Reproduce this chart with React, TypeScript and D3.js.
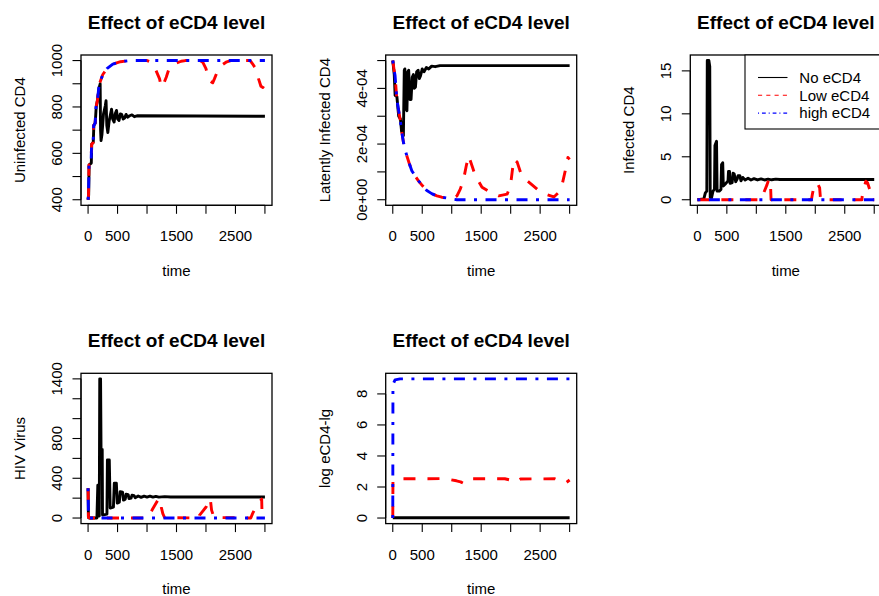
import React, { useEffect } from "react";
import * as d3 from "d3";

// ---- axis ticks -------------------------------------------------------
const timeTicks = [0, 500, 1000, 1500, 2000, 2500, 3000];
const timeTickLabels = [0, 500, 1500, 2500];

const uninfTicks = [400, 500, 600, 700, 800, 900, 1000];
const uninfTickLabels = ["400", "600", "800", "1000"];
const latentTicks = [0, 1e-4, 2e-4, 3e-4, 4e-4, 5e-4];
const latentTickLabels = ["0e+00", "2e-04", "4e-04"];
const infTicks = [0, 5, 10, 15];
const infTickLabels = ["0", "5", "10", "15"];
const virusTicks = [0, 200, 400, 600, 800, 1000, 1200, 1400];
const virusTickLabels = ["0", "400", "800", "1400"];
const logTicks = [0, 2, 4, 6, 8];
const logTickLabels = ["0", "2", "4", "6", "8"];

const legendLabels = ["No eCD4", "Low eCD4", "high eCD4"];

// ---- series: [time, value] ---------------------------------------------
const uninfNo: [number, number][] = [
  [0, 400], [10, 420], [18, 550], [55, 558], [62, 640], [88, 648], [98, 720], [122, 732],
  [138, 800], [160, 830], [185, 880], [205, 900], [212, 700], [220, 655], [235, 680],
  [262, 770], [292, 805], [305, 827], [318, 720], [335, 690], [358, 740], [378, 765],
  [398, 790], [418, 748], [442, 735], [462, 772], [482, 785], [502, 748], [525, 742],
  [548, 770], [572, 767], [595, 748], [620, 752], [645, 768], [672, 756], [705, 762],
  [745, 766], [785, 758], [830, 762], [3000, 760],
];
const uninfLow: [number, number][] = [
  [0, 400], [8, 420], [15, 550], [50, 555], [60, 640], [85, 645], [95, 720], [120, 730],
  [135, 800], [160, 830], [180, 880], [200, 905], [250, 940], [320, 965], [420, 985],
  [550, 995], [700, 1000], [1000, 1000], [1072, 993], [1128, 972], [1213, 921],
  [1241, 885], [1270, 892], [1326, 928], [1382, 972], [1466, 986], [1579, 997],
  [1650, 1000], [1900, 1000], [1945, 993], [2000, 965], [2030, 935], [2058, 914],
  [2114, 904], [2143, 921], [2199, 957], [2256, 978], [2340, 993], [2420, 1000],
  [2750, 1000], [2790, 986], [2848, 964], [2892, 921], [2932, 889], [2965, 884],
  [3000, 897],
];
const uninfHigh: [number, number][] = [
  [0, 400], [8, 420], [15, 550], [50, 555], [60, 640], [85, 645], [95, 720], [120, 730],
  [135, 800], [160, 830], [180, 880], [200, 905], [250, 940], [320, 965], [420, 985],
  [550, 995], [700, 1000], [3000, 1000],
];

const latentNo: [number, number][] = [
  [0, 5.0e-4], [25, 4.5e-4], [40, 3.75e-4], [70, 3.7e-4], [100, 3.0e-4], [130, 2.9e-4],
  [150, 2.45e-4], [180, 2.3e-4], [195, 4.65e-4], [205, 4.7e-4], [220, 3.3e-4],
  [240, 3.2e-4], [255, 4.6e-4], [270, 4.65e-4], [290, 3.6e-4], [310, 3.6e-4],
  [330, 4.4e-4], [350, 4.5e-4], [365, 4.0e-4], [385, 4.05e-4], [405, 4.6e-4],
  [430, 4.65e-4], [450, 4.35e-4], [470, 4.45e-4], [500, 4.7e-4], [530, 4.6e-4],
  [570, 4.75e-4], [610, 4.7e-4], [660, 4.8e-4], [720, 4.78e-4], [800, 4.82e-4],
  [3000, 4.82e-4],
];
const latentLow: [number, number][] = [
  [0, 5.0e-4], [20, 4.7e-4], [39, 4.46e-4], [68, 3.62e-4], [96, 3.25e-4], [124, 2.9e-4],
  [152, 2.45e-4], [181, 2.06e-4], [210, 1.8e-4], [238, 1.58e-4], [280, 1.3e-4],
  [323, 1.04e-4], [380, 0.85e-4], [436, 0.68e-4], [505, 0.5e-4], [578, 0.33e-4],
  [660, 0.22e-4], [749, 0.14e-4], [830, 0.09e-4], [919, 0.06e-4], [1000, 0.05e-4],
  [1089, 0.14e-4], [1145, 0.38e-4], [1202, 0.74e-4], [1247, 1.22e-4], [1287, 1.58e-4],
  [1344, 1.22e-4], [1400, 0.86e-4], [1514, 0.45e-4], [1656, 0.27e-4], [1797, 0.14e-4],
  [1940, 0.2e-4], [1996, 0.5e-4], [2025, 0.99e-4], [2053, 1.46e-4], [2110, 1.35e-4],
  [2166, 0.99e-4], [2280, 0.68e-4], [2450, 0.38e-4], [2591, 0.2e-4], [2733, 0.1e-4],
  [2818, 0.27e-4], [2875, 0.56e-4], [2932, 1.1e-4], [2971, 1.52e-4], [3000, 1.45e-4],
];
const latentHigh: [number, number][] = [
  [0, 5.0e-4], [20, 4.7e-4], [39, 4.46e-4], [68, 3.62e-4], [96, 3.25e-4], [124, 2.9e-4],
  [152, 2.45e-4], [181, 2.06e-4], [210, 1.8e-4], [238, 1.58e-4], [280, 1.3e-4],
  [323, 1.04e-4], [380, 0.85e-4], [436, 0.68e-4], [505, 0.5e-4], [578, 0.33e-4],
  [660, 0.22e-4], [749, 0.14e-4], [830, 0.09e-4], [919, 0.06e-4], [1000, 0.03e-4],
  [1089, 0], [3000, 0],
];

const infNo: [number, number][] = [
  [0, 0], [110, 0.1], [135, 0.8], [160, 1.0], [168, 16.2], [195, 16.2], [210, 15.5],
  [218, 0.3], [240, 0.2], [265, 1.0], [290, 1.2], [298, 6.3], [325, 6.8], [335, 1.0],
  [370, 1.0], [400, 1.2], [410, 4.1], [430, 4.3], [440, 1.6], [470, 1.8], [520, 2.2],
  [528, 3.3], [545, 3.3], [555, 1.9], [590, 2.0], [605, 3.1], [625, 3.0], [650, 2.1],
  [675, 2.4], [690, 2.8], [720, 2.8], [740, 2.2], [770, 2.6], [810, 2.3], [860, 2.5],
  [910, 2.3], [960, 2.45], [1020, 2.3], [1080, 2.42], [1140, 2.3], [1200, 2.4],
  [1260, 2.32], [1330, 2.4], [1400, 2.35], [3000, 2.35],
];
const infLow: [number, number][] = [
  [0, 0], [1080, 0], [1125, 0.8], [1182, 1.76], [1210, 2.35], [1238, 2.3], [1250, 0],
  [1935, 0], [1950, 0.6], [1977, 1.56], [2035, 1.96], [2074, 1.37], [2090, 0],
  [2790, 0], [2802, 0.78], [2858, 2.15], [2885, 2.0], [2943, 0.78], [2960, 0],
  [3000, 0],
];
const infHigh: [number, number][] = [
  [0, 0], [3000, 0],
];

const virusNo: [number, number][] = [
  [0, 300], [6, 5], [20, 0], [150, 0], [165, 330], [180, 330], [190, 20], [198, 1400],
  [212, 1400], [220, 690], [240, 690], [245, 30], [320, 40], [328, 584], [360, 584],
  [375, 100], [430, 110], [445, 350], [480, 350], [495, 150], [530, 160], [545, 265],
  [585, 260], [600, 180], [630, 190], [645, 240], [680, 235], [695, 195], [730, 200],
  [745, 230], [780, 225], [800, 205], [850, 222], [900, 208], [950, 220], [1000, 210],
  [1050, 220], [1100, 210], [1150, 218], [1200, 210], [1300, 215], [1400, 212],
  [3000, 212],
];
const virusLow: [number, number][] = [
  [0, 300], [6, 5], [25, 0], [985, 0], [1015, 10], [1100, 95], [1184, 180], [1213, 198],
  [1241, 111], [1268, 44], [1297, 5], [1880, 0], [1889, 27], [2002, 111], [2058, 196],
  [2075, 185], [2095, 80], [2124, 27], [2150, 5], [2760, 0], [2790, 44], [2875, 146],
  [2932, 179], [2945, 190], [2952, 15], [3000, 10],
];
const virusHigh: [number, number][] = [
  [0, 300], [6, 5], [25, 0], [3000, 0],
];

const logNo: [number, number][] = [
  [0, 0.02], [3000, 0.02],
];
const logLow: [number, number][] = [
  [0, 0], [3, 2.4], [68, 2.47], [150, 2.53], [900, 2.54], [970, 2.48], [1080, 2.4],
  [1150, 2.33], [1202, 2.23], [1259, 2.45], [1330, 2.53], [1900, 2.53], [1990, 2.45],
  [2053, 2.3], [2110, 2.4], [2166, 2.52], [2750, 2.53], [2820, 2.42], [2903, 2.3],
  [2940, 2.28], [3000, 2.45],
];
const logHigh: [number, number][] = [
  [0, 0], [3, 8.6], [39, 8.9], [124, 8.97], [3000, 8.97],
];

// ---- styling -----------------------------------------------------------
const FONT = "'Liberation Sans', Arial, Helvetica, sans-serif";
const LWD = 2.9;
type Style = { color: string; dash: string | null };
const styleNo: Style = { color: "#000000", dash: null };
const styleLow: Style = { color: "#FF0000", dash: "12,12" };
const styleHigh: Style = { color: "#0000FF", dash: "3,8.5,11,8.5" };

type Series = { data: [number, number][]; style: Style };

type PanelProps = {
  left: number;
  top: number;
  width: number;
  height: number;
  ylabel: string;
  yTicks: number[];
  yTickLabels: string[];
  series: Series[];
  legend?: boolean;
};

// R-style 4% padding on both ends of the data range
function padded(ext: [number, number]): [number, number] {
  const r = ext[1] - ext[0];
  return [ext[0] - 0.04 * r, ext[1] + 0.04 * r];
}

function Panel({ left, top, width, height, ylabel, yTicks, yTickLabels, series, legend }: PanelProps) {
  const right = left + width;
  const bottom = top + height;
  const allT = series.flatMap((s) => s.data.map((d) => d[0]));
  const allV = series.flatMap((s) => s.data.map((d) => d[1]));
  const x = d3.scaleLinear().domain(padded(d3.extent(allT) as [number, number])).range([left, right]);
  const y = d3.scaleLinear().domain(padded(d3.extent(allV) as [number, number])).range([bottom, top]);
  const line = d3
    .line<[number, number]>()
    .x((d) => x(d[0]))
    .y((d) => y(d[1]));

  const cx = (left + right) / 2;
  const cy = (top + bottom) / 2;
  const tick = 8.5;

  const clipId = `clip-${Math.round(left)}-${Math.round(top)}`;

  return (
    <g>
      <defs>
        <clipPath id={clipId}>
          <rect x={left} y={top} width={width} height={height} />
        </clipPath>
      </defs>
      <g clipPath={`url(#${clipId})`}>
        {series.map((s, i) => (
          <path
            key={i}
            d={line(s.data) || ""}
            fill="none"
            stroke={s.style.color}
            strokeWidth={LWD}
            strokeDasharray={s.style.dash || undefined}
            strokeLinejoin="round"
            strokeLinecap="butt"
          />
        ))}
      </g>
      <rect x={left} y={top} width={width} height={height} fill="none" stroke="#000" strokeWidth={1.3} />

      {/* x axis */}
      <line x1={x(timeTicks[0])} x2={x(timeTicks[timeTicks.length - 1])} y1={bottom} y2={bottom} stroke="#000" strokeWidth={1.1} />
      {timeTicks.map((t) => (
        <line key={t} x1={x(t)} x2={x(t)} y1={bottom} y2={bottom + tick} stroke="#000" strokeWidth={1.1} />
      ))}
      {timeTickLabels.map((t) => (
        <text key={t} x={x(t)} y={bottom + 36} textAnchor="middle" fontFamily={FONT} fontSize={15} fill="#000">
          {t}
        </text>
      ))}
      <text x={cx} y={bottom + 70.5} textAnchor="middle" fontFamily={FONT} fontSize={15} fill="#000">
        time
      </text>

      {/* y axis */}
      <line x1={left} x2={left} y1={y(yTicks[0])} y2={y(yTicks[yTicks.length - 1])} stroke="#000" strokeWidth={1.1} />
      {yTicks.map((v) => (
        <line key={v} x1={left - tick} x2={left} y1={y(v)} y2={y(v)} stroke="#000" strokeWidth={1.1} />
      ))}
      {yTickLabels.map((lab) => {
        const v = Number(lab);
        return (
          <text
            key={lab}
            transform={`translate(${left - 19},${y(v)}) rotate(-90)`}
            textAnchor="middle"
            fontFamily={FONT}
            fontSize={15}
            fill="#000"
          >
            {lab}
          </text>
        );
      })}
      <text
        transform={`translate(${left - 56},${cy}) rotate(-90)`}
        textAnchor="middle"
        fontFamily={FONT}
        fontSize={15}
        fill="#000"
      >
        {ylabel}
      </text>

      {/* title */}
      <text x={cx} y={top - 26} textAnchor="middle" fontFamily={FONT} fontSize={19} fontWeight="bold" fill="#000">
        Effect of eCD4 level
      </text>

      {legend && (
        <g>
          <rect x={745} y={top} width={right - 745} height={74} fill="#fff" stroke="#000" strokeWidth={1.1} />
          {[styleNo, styleLow, styleHigh].map((s, i) => {
            const ly = top + 22.5 + i * 17.8;
            const dash = s.dash ? s.dash.split(",").map((d) => +d / LWD).join(",") : undefined;
            return (
              <g key={i}>
                <line x1={758} x2={787.5} y1={ly} y2={ly} stroke={s.color} strokeWidth={1.1} strokeDasharray={dash} />
                <text x={799.3} y={ly + 5.3} fontFamily={FONT} fontSize={15} fill="#000">
                  {legendLabels[i]}
                </text>
              </g>
            );
          })}
        </g>
      )}
    </g>
  );
}

export default function App() {
  useEffect(() => {
    document.body.style.margin = "0";
  }, []);

  const colLeft = [81, 385.7, 690.3];
  const rowTop = [55, 373.3];
  const W = 191;
  const H = 150.3;

  return (
    <svg width={879} height={596} style={{ display: "block", background: "#fff" }}>
      <rect width={879} height={596} fill="#fff" />
      <Panel
        left={colLeft[0]} top={rowTop[0]} width={W} height={H}
        ylabel="Uninfected CD4" yTicks={uninfTicks} yTickLabels={uninfTickLabels}
        series={[{ data: uninfNo, style: styleNo }, { data: uninfLow, style: styleLow }, { data: uninfHigh, style: styleHigh }]}
      />
      <Panel
        left={colLeft[1]} top={rowTop[0]} width={W} height={H}
        ylabel="Latently Infected CD4" yTicks={latentTicks} yTickLabels={latentTickLabels}
        series={[{ data: latentNo, style: styleNo }, { data: latentLow, style: styleLow }, { data: latentHigh, style: styleHigh }]}
      />
      <Panel
        left={colLeft[2]} top={rowTop[0]} width={W} height={H}
        ylabel="Infected CD4" yTicks={infTicks} yTickLabels={infTickLabels}
        series={[{ data: infNo, style: styleNo }, { data: infLow, style: styleLow }, { data: infHigh, style: styleHigh }]}
        legend
      />
      <Panel
        left={colLeft[0]} top={rowTop[1]} width={W} height={H}
        ylabel="HIV Virus" yTicks={virusTicks} yTickLabels={virusTickLabels}
        series={[{ data: virusNo, style: styleNo }, { data: virusLow, style: styleLow }, { data: virusHigh, style: styleHigh }]}
      />
      <Panel
        left={colLeft[1]} top={rowTop[1]} width={W} height={H}
        ylabel="log eCD4-lg" yTicks={logTicks} yTickLabels={logTickLabels}
        series={[{ data: logNo, style: styleNo }, { data: logLow, style: styleLow }, { data: logHigh, style: styleHigh }]}
      />
    </svg>
  );
}
